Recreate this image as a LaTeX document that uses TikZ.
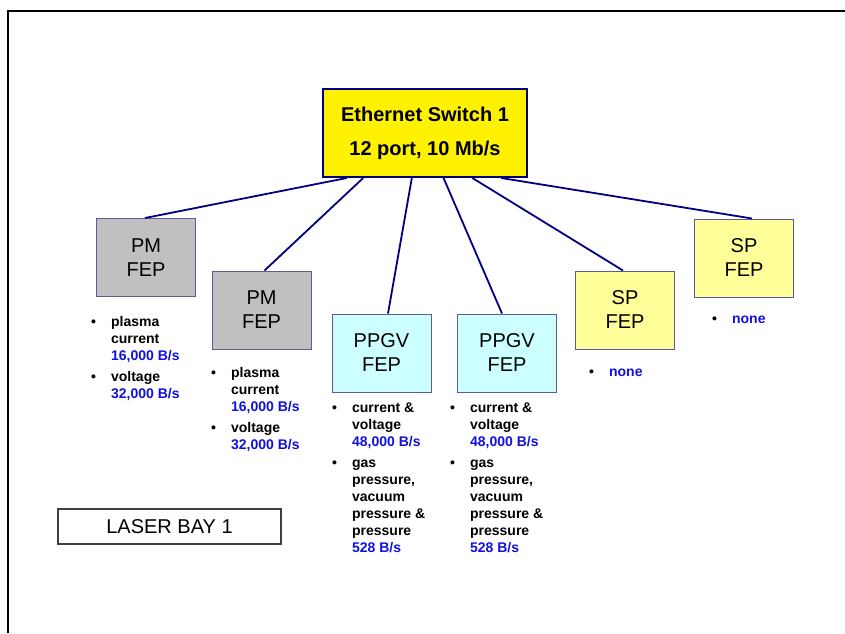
\documentclass[tikz,border=0pt]{standalone}
\usepackage{fontspec}
\setmainfont{Liberation Sans}
\usetikzlibrary{calc}
\definecolor{switchnavy}{HTML}{000080}
\definecolor{pmgrey}{HTML}{C0C0C0}
\definecolor{ppgvcyan}{HTML}{CCFFFF}
\definecolor{spyellow}{HTML}{FFFF99}
\definecolor{fepedge}{HTML}{5C5C9C}
\definecolor{rateblue}{HTML}{1010E0}
\newcommand{\rate}[1]{\textcolor{rateblue}{#1}}

\begin{document}
\begin{tikzpicture}[x=1pt,y=-1pt]

\tikzstyle{fep}=[draw=fepedge, line width=1pt, minimum width=99pt, minimum height=78pt, inner sep=0pt, align=center, font=\fontsize{20}{24}\selectfont]
\tikzstyle{feplist}=[anchor=north west, inner sep=0pt, font=\bfseries\fontsize{14}{17}\selectfont]
\tikzstyle{link}=[draw=switchnavy, line width=1.8pt]

\useasboundingbox (0,0) rectangle (845,633);
\draw[line width=2.5pt, black] (8,633) -- (8,11) -- (845,11);

\node[draw=switchnavy, fill=yellow, line width=2pt, minimum width=204pt, minimum height=88pt, align=center, font=\bfseries\fontsize{20}{34}\selectfont] (sw) at (425,133) {Ethernet Switch 1\\12 port, 10 Mb/s};

\node[fep, fill=pmgrey] (pm1) at (146,257.5) {PM\\FEP};
\node[fep, fill=pmgrey] (pm2) at (261.5,310) {PM\\FEP};
\node[fep, fill=ppgvcyan] (ppgv1) at (381.5,353) {PPGV\\FEP};
\node[fep, fill=ppgvcyan] (ppgv2) at (507,353) {PPGV\\FEP};
\node[fep, fill=spyellow] (sp1) at (625,310) {SP\\FEP};
\node[fep, fill=spyellow] (sp2) at (744,258) {SP\\FEP};

\foreach \f/\n/\g in {0.12/pm1/0.49, 0.20/pm2/0.53, 0.436/ppgv1/0.565, 0.59/ppgv2/0.45, 0.73/sp1/0.48, 0.87/sp2/0.58}
  \draw[link] ($(sw.south west)!\f!(sw.south east)$) -- ($(\n.north west)!\g!(\n.north east)$);

\node[feplist] (pm1list) at (91,314) {\begin{tabular}{@{}l@{\hspace{15pt}}l@{}}
\textbullet & plasma\\ & current\\ & \rate{16,000 B/s}\\[4pt]
\textbullet & voltage\\ & \rate{32,000 B/s}
\end{tabular}};
\node[feplist] (pm2list) at (211,365) {\begin{tabular}{@{}l@{\hspace{15pt}}l@{}}
\textbullet & plasma\\ & current\\ & \rate{16,000 B/s}\\[4pt]
\textbullet & voltage\\ & \rate{32,000 B/s}
\end{tabular}};
\node[feplist] (ppgv1list) at (332,400) {\begin{tabular}{@{}l@{\hspace{15pt}}l@{}}
\textbullet & current \&\\ & voltage\\ & \rate{48,000 B/s}\\[4pt]
\textbullet & gas\\ & pressure,\\ & vacuum\\ & pressure \&\\ & pressure\\ & \rate{528 B/s}
\end{tabular}};
\node[feplist] (ppgv2list) at (450,400) {\begin{tabular}{@{}l@{\hspace{15pt}}l@{}}
\textbullet & current \&\\ & voltage\\ & \rate{48,000 B/s}\\[4pt]
\textbullet & gas\\ & pressure,\\ & vacuum\\ & pressure \&\\ & pressure\\ & \rate{528 B/s}
\end{tabular}};
\node[feplist] (sp1list) at (589,364) {\begin{tabular}{@{}l@{\hspace{15pt}}l@{}}
\textbullet & \rate{none}
\end{tabular}};
\node[feplist] (sp2list) at (712,311) {\begin{tabular}{@{}l@{\hspace{15pt}}l@{}}
\textbullet & \rate{none}
\end{tabular}};

\node[draw=black!75, fill=white, line width=1.2pt, minimum width=223pt, minimum height=35pt, font=\fontsize{20}{24}\selectfont] (bay) at (169.5,526.5) {LASER BAY 1};

\end{tikzpicture}
\end{document}
